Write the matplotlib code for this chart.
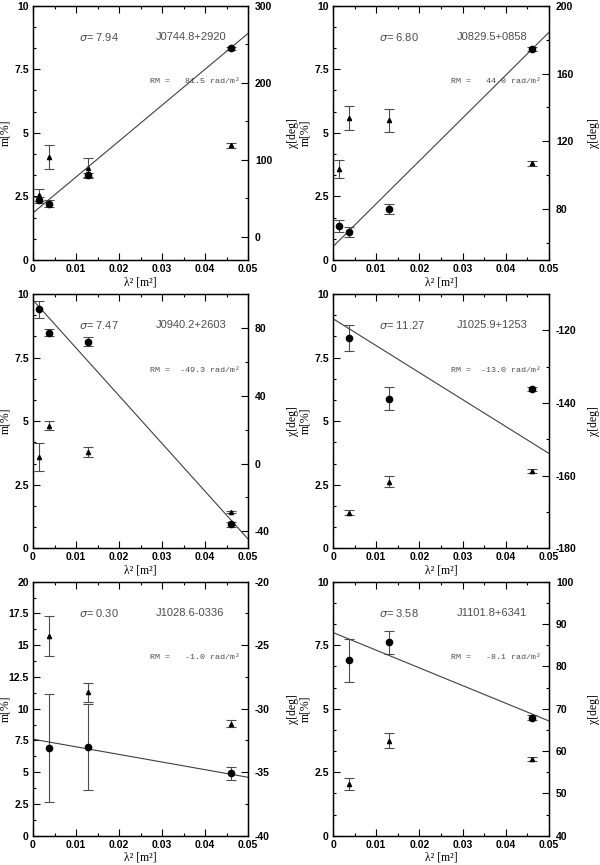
import numpy as np
import matplotlib
matplotlib.use('Agg')
import matplotlib.pyplot as plt
from matplotlib.ticker import MultipleLocator, FuncFormatter

plt.rcParams['font.family'] = ['Liberation Sans', 'DejaVu Sans']

# ---------------- data ----------------
names = ['J0744.8+2920', 'J0829.5+0858', 'J0940.2+2603',
         'J1025.9+1253', 'J1028.6-0336', 'J1101.8+6341']
sigmas = [7.94, 6.80, 7.47, 11.27, 0.30, 3.58]
rms = [81.5, 44.0, -49.3, -13.0, -1.0, -8.1]

lam2_4 = [0.0013, 0.0038, 0.0129, 0.046]
lam2_3 = [0.0038, 0.0129, 0.046]
lam2 = [lam2_4, lam2_4, lam2_4, lam2_3, lam2_3, lam2_3]

# polarisation degree m[%] (triangles, left axis)
m_vals = [[2.56, 4.06, 3.63, 4.52],
          [3.58, 5.57, 5.50, 3.80],
          [3.60, 4.82, 3.80, 1.43],
          [1.40, 2.62, 3.03],
          [15.72, 11.30, 8.82],
          [2.03, 3.74, 3.03]]
m_errs = [[0.25, 0.48, 0.37, 0.10],
          [0.37, 0.47, 0.45, 0.10],
          [0.55, 0.18, 0.20, 0.05],
          [0.10, 0.22, 0.07],
          [1.55, 0.75, 0.30],
          [0.23, 0.30, 0.07]]

# polarisation angle chi[deg] (circles, right axis)
chi_vals = [[47.5, 43.2, 80.0, 245.0],
            [70.2, 66.7, 80.3, 174.4],
            [90.9, 77.1, 71.8, -35.9],
            [-122.2, -138.8, -136.1],
            [-33.1, -33.0, -35.1],
            [81.4, 85.7, 67.9]]
chi_errs = [[4.0, 4.5, 3.5, 2.0],
            [3.4, 3.0, 3.0, 1.0],
            [5.0, 2.0, 2.6, 1.5],
            [3.6, 3.2, 0.6],
            [4.27, 3.4, 0.5],
            [5.0, 2.7, 0.5]]

# RM fit line: chi at lambda^2 = 0 and at 0.05
fit_start = [31.1, 57.9, 96.4, -116.8, -32.4, 88.0]
fit_end = [264.0, 184.3, -44.5, -153.9, -35.4, 67.1]

m_lims = [(0, 10), (0, 10), (0, 10), (0, 10), (0, 20), (0, 10)]
m_minor = [2.5 / 3, 2.5 / 3, 2.5 / 3, 2.5 / 3, 1.25, 2.5 / 3]
chi_lims = [(-30, 300), (50, 200), (-50, 100), (-180, -110), (-40, -20), (40, 100)]
chi_major = [100, 40, 40, 20, 5, 10]
chi_minor = [50, 20, 20, 10, 2.5, 5]

# axes positions in pixels
W, H = 600., 865.
cols = [(33, 248), (333, 549)]
rows = [(5.7, 260), (294, 548.3), (581.7, 835.7)]

fig = plt.figure(figsize=(6, 8.65), dpi=100)

fmt = FuncFormatter(lambda v, p: '%g' % v if abs(v) > 1e-12 else '0')
grey = '0.3'
serif = ['Liberation Serif', 'DejaVu Serif']
all_axes = []

for i in range(6):
    r, c = divmod(i, 2)
    x0, x1 = cols[c]
    y0, y1 = rows[r]
    w = x1 - x0
    h = y1 - y0
    ax = fig.add_axes([x0 / W, 1 - y1 / H, w / W, h / H])
    ax2 = ax.twinx()
    all_axes += [ax, ax2]

    x = np.array(lam2[i])
    # triangles: m
    ax.errorbar(x, m_vals[i], yerr=m_errs[i], fmt='^', ms=3, color='k',
                ecolor=grey, elinewidth=0.8, capsize=3.5, capthick=0.8)
    # circles: chi
    ax2.errorbar(x, chi_vals[i], yerr=chi_errs[i], fmt='o', ms=4.5, color='k',
                 ecolor=grey, elinewidth=0.8, capsize=3.5, capthick=0.8)
    xf = np.array([0, 0.05])
    ax2.plot(xf, [fit_start[i], fit_end[i]], color='0.25', lw=0.8)

    ax.set_xlim(0, 0.05)
    ax.set_ylim(*m_lims[i])
    ax2.set_ylim(*chi_lims[i])

    ax.xaxis.set_major_locator(MultipleLocator(0.01))
    ax.xaxis.set_minor_locator(MultipleLocator(0.005))
    ax.yaxis.set_major_locator(MultipleLocator(2.5))
    ax.yaxis.set_minor_locator(MultipleLocator(m_minor[i]))
    ax2.yaxis.set_major_locator(MultipleLocator(chi_major[i]))
    ax2.yaxis.set_minor_locator(MultipleLocator(chi_minor[i]))
    ax.xaxis.set_major_formatter(fmt)
    ax.yaxis.set_major_formatter(fmt)
    ax2.yaxis.set_major_formatter(fmt)

    ax.tick_params(which='both', direction='in', top=True, right=False,
                   labelsize=7.5, width=0.8, pad=3)
    ax.tick_params(which='major', length=5)
    ax.tick_params(which='minor', length=2.5)
    ax2.tick_params(which='both', direction='in', labelsize=7.5, width=0.8, pad=5)
    ax2.tick_params(which='major', length=5)
    ax2.tick_params(which='minor', length=2.5)
    for sp in ax2.spines.values():
        sp.set_linewidth(1.0)

    ax.set_ylabel('m[%]', fontsize=8.5, family=serif)
    ax2.set_ylabel('χ[deg]', fontsize=8.5, family=serif)
    ax.set_xlabel('λ² [m²]', fontsize=8.5, family=serif)
    ax.yaxis.set_label_coords(-28 / w, 0.5)
    ax2.yaxis.set_label_coords(1 + 45 / w, 0.5)
    ax.xaxis.set_label_coords(0.5, -22 / h)
    ax.yaxis.label.set_va('center')
    ax2.yaxis.label.set_va('center')
    ax.xaxis.label.set_va('center')

    ax.text(0.215, 0.878, r'$\sigma$= %.2f' % sigmas[i], transform=ax.transAxes,
            fontsize=8, color='0.3', va='center', ha='left')
    ax.text(0.572, 0.878, names[i], transform=ax.transAxes,
            fontsize=8, color='0.3', va='center', ha='left')
    ax.text(0.965, 0.70, 'RM = %6.1f rad/m²' % rms[i], transform=ax.transAxes,
            fontsize=6, color='0.3', va='center', ha='right',
            family=['Liberation Mono', 'DejaVu Sans Mono'])

fig.canvas.draw()
for a in all_axes:
    for t in a.get_xticklabels() + a.get_yticklabels():
        t.set_fontweight('bold')

fig.savefig('out.png', dpi=100)
